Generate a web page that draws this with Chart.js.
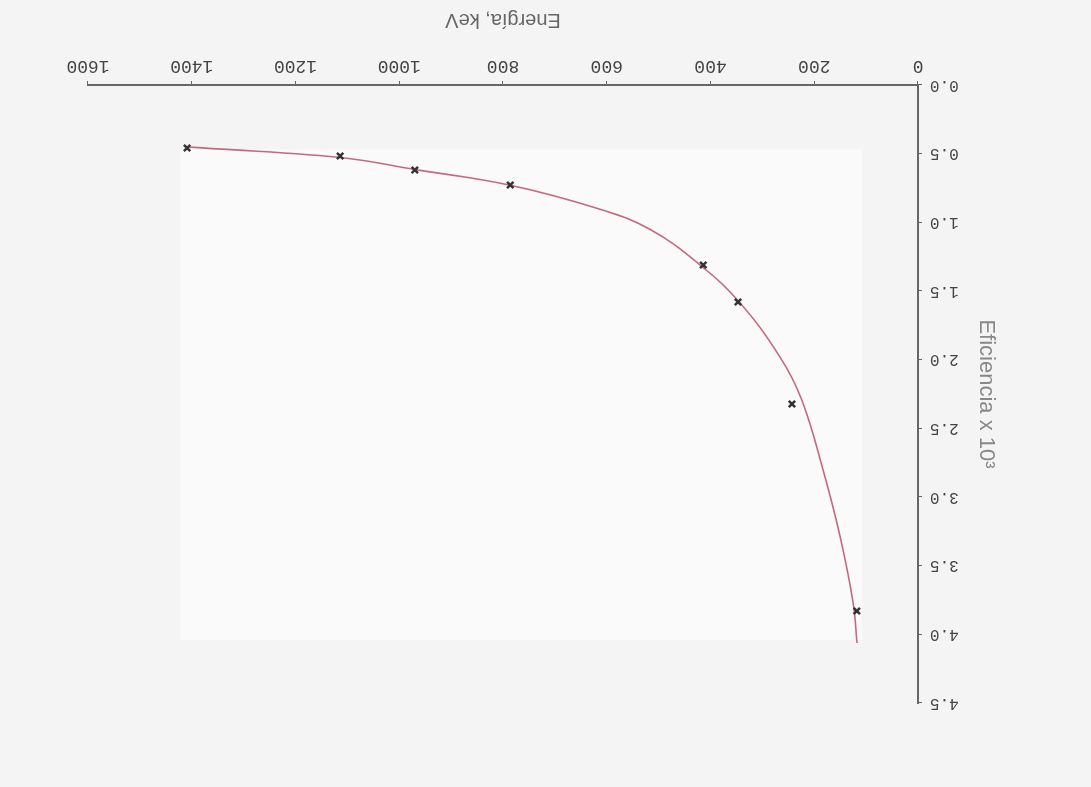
<!DOCTYPE html>
<html>
<head>
<meta charset="utf-8">
<script src="https://cdn.jsdelivr.net/npm/chart.js@4"></script>
<style>
  html, body { margin: 0; padding: 0; background: #f4f4f4; }
  #wrap { width: 1091px; height: 787px; transform: rotate(180deg); }
</style>
</head>
<body>
<div id="wrap"><canvas id="myChart" width="1091" height="787"></canvas></div>
<script>
// measured points (keV, efficiency x 10^3)
const energia = [1409, 1114, 970, 786, 414, 347, 243, 118];
const eficiencia = [0.459, 0.517, 0.619, 0.728, 1.311, 1.58, 2.323, 3.83];

// fitted curve
const curvaE = [1409, 1114, 970, 786, 613, 517, 420, 343, 266, 224, 183, 150, 125, 117.6];
const curvaEf = [0.451, 0.528, 0.615, 0.73, 0.905, 1.05, 1.311, 1.587, 1.981, 2.294, 2.803, 3.291, 3.772, 4.063];

const xTicks = [0, 200, 400, 600, 800, 1000, 1200, 1400, 1600];
const yTicks = [0, 0.5, 1, 1.5, 2, 2.5, 3, 3.5, 4, 4.5];

// lighter paper patch behind the plot (scan look)
const paper = {
  id: "paper",
  beforeDatasetsDraw(c) {
    const { ctx, scales } = c;
    const x0 = scales.x.getPixelForValue(108), x1 = scales.x.getPixelForValue(1422);
    const y0 = scales.y.getPixelForValue(4.04), y1 = scales.y.getPixelForValue(0.47);
    ctx.save();
    ctx.fillStyle = "#fafafa";
    ctx.fillRect(x0, y0, x1 - x0, y1 - y0);
    ctx.restore();
  },
};

const myChart = document.querySelector("#myChart");

let chart = new Chart(myChart, {
  type: "scatter",
  data: {
    datasets: [
      {
        label: "puntos",
        data: energia.map((e, i) => ({ x: e, y: eficiencia[i] })),
        pointStyle: "crossRot",
        pointRadius: 4.5,
        borderColor: "#333",
        borderWidth: 2.5,
        showLine: false,
        order: 0,
      },
      {
        label: "ajuste",
        data: curvaE.map((e, i) => ({ x: e, y: curvaEf[i] })),
        showLine: true,
        pointRadius: 0,
        borderColor: "#c46a80",
        borderWidth: 1.6,
        tension: 0.4,
        order: 1,
      },
    ],
  },
  options: {
    responsive: false,
    animation: false,
    layout: { padding: { left: 0, right: 88, top: 84, bottom: 0 } },
    plugins: { legend: { display: false }, tooltip: { enabled: false } },
    scales: {
      x: {
        type: "linear",
        min: 0,
        max: 1600,
        afterBuildTicks: (s) => { s.ticks = xTicks.map((v) => ({ value: v })); },
        afterFit: (s) => { s.height = 85; },
        border: { color: "#666", width: 2 },
        grid: { drawOnChartArea: false, tickLength: 4, color: "#666" },
        ticks: {
          padding: 4,
          color: "#444",
          font: { family: "Liberation Mono", size: 18 },
          callback: (v) => String(v),
        },
        title: {
          display: true,
          text: "Energía, keV",
          color: "#666",
          font: { family: "Liberation Sans", size: 20 },
          padding: { top: 0, bottom: 8 },
        },
      },
      y: {
        type: "linear",
        min: 0,
        max: 4.5,
        afterBuildTicks: (s) => { s.ticks = yTicks.map((v) => ({ value: v })); },
        afterFit: (s) => { s.width = 173; },
        border: { color: "#666", width: 2 },
        grid: { drawOnChartArea: false, tickLength: 4, color: "#666" },
        ticks: {
          padding: 8,
          color: "#444",
          font: { family: "Liberation Mono", size: 16 },
          callback: (v) => v.toFixed(1),
        },
        title: {
          display: true,
          text: "Eficiencia x 10³",
          color: "#888",
          font: { family: "Liberation Sans", size: 22 },
          padding: { top: 92, bottom: 0 },
        },
      },
    },
  },
  plugins: [paper],
});
</script>
</body>
</html>
